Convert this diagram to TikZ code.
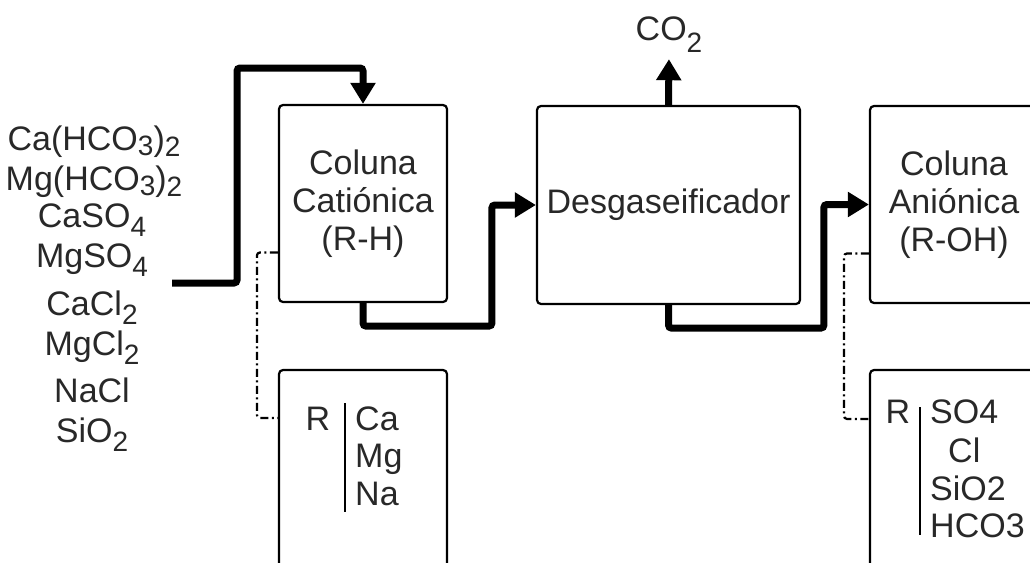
\documentclass[tikz,border=0pt]{standalone}
\usepackage{fontspec}
\setmainfont{Liberation Sans}
\usepackage{tikz}
\usetikzlibrary{arrows.meta,positioning,calc}
\definecolor{destexto}{RGB}{40,40,40}
\newcommand{\chsub}[2][9pt]{\raisebox{-#1}{\fontsize{28pt}{28pt}\selectfont #2}}

\begin{document}
\begin{tikzpicture}[x=1pt,y=-1pt,
    caixa/.style={rectangle, draw, rounded corners=4pt, line width=2.2pt,
                  minimum width=168pt, minimum height=197pt, align=center,
                  text=destexto, font=\fontsize{34pt}{38pt}\selectfont},
    fluxo/.style={-{Triangle[length=21pt,width=24pt]}, line width=7pt,
                  rounded corners=3pt},
    regen/.style={line width=2.2pt, rounded corners=3pt,
                  dash pattern=on 8pt off 3.5pt on 2pt off 3.5pt},
    sal/.style={anchor=base, inner sep=0pt, text=destexto,
                font=\fontsize{34pt}{38pt}\selectfont},
  ]
  \useasboundingbox (0,0) rectangle (1030,562);
  \clip (0,0) rectangle (1030,562);

  % Agua bruta
  \node[sal] (s1) at (94,150) {Ca(HCO\chsub[5pt]{3})\chsub[6pt]{2}};
  \node[sal] (s2) at (94,190) {Mg(HCO\chsub[5pt]{3})\chsub[6pt]{2}};
  \node[sal] (s3) at (92,227) {CaSO\chsub{4}};
  \node[sal] (s4) at (92,267) {MgSO\chsub{4}};
  \node[sal] (s5) at (92,315) {CaCl\chsub{2}};
  \node[sal] (s6) at (92,355) {MgCl\chsub{2}};
  \node[sal] (s7) at (92,402) {NaCl};
  \node[sal] (s8) at (92,442) {SiO\chsub{2}};
  \coordinate (entrada) at (172,283);

  % Colunas
  \node[caixa] (cat) at (363,203.5) {Coluna\\Catiónica\\(R-H)};
  \node[caixa, minimum width=263pt, minimum height=198pt] (desgas)
    at (668.5,205) {Desgaseificador};
  \node[caixa] (ani) at (954,204.5) {Coluna\\Aniónica\\(R-OH)};

  % Resinas saturadas
  \node[caixa, minimum height=250pt] (rescat) at (363,495) {};
  \node[caixa, minimum height=250pt] (resani) at (954,495) {};

  \node[sal] (rc-r) at (318,430) {R};
  \draw[line width=2pt] (345,403) -- (345,512);
  \node[sal, anchor=base west] (rc-ca) at (355,430) {Ca};
  \node[sal, anchor=base west] (rc-mg) at (355,467) {Mg};
  \node[sal, anchor=base west] (rc-na) at (355,505) {Na};

  \node[sal] (ra-r) at (898,423) {R};
  \draw[line width=2pt] (920,407) -- (920,535);
  \node[sal, anchor=base west] (ra-so) at (930,423) {SO4};
  \node[sal, anchor=base west] (ra-cl) at (948,462) {Cl};
  \node[sal, anchor=base west] (ra-si) at (930,500) {SiO2};
  \node[sal, anchor=base west] (ra-hc) at (930,537) {HCO3};

  % CO2
  \node[sal, inner sep=3pt] (co2) at (669,40) {CO\chsub[12pt]{2}};

  % Fluxo principal
  \draw[fluxo] (entrada) -- (237,283) -- (237,68) -| (cat.north);
  \draw[fluxo] (cat.south) -- ++(0,23) -| ($(desgas.west)+(-44,0)$)
    -- (desgas.west);
  \draw[fluxo] (desgas.south) -- ++(0,23) -| ($(ani.west)+(-45,0)$)
    -- (ani.west);
  \draw[fluxo, shorten >=4pt] (desgas.north) -- (co2.south);

  % Regeneracao
  \draw[regen] ([yshift=-49pt]cat.west) -- ++(-21,0)
    |- ([yshift=-49pt]rescat.north west);
  \draw[regen] ([yshift=-49pt]ani.west) -- ++(-25,0)
    |- ([yshift=-50pt]resani.north west);
\end{tikzpicture}
\end{document}
